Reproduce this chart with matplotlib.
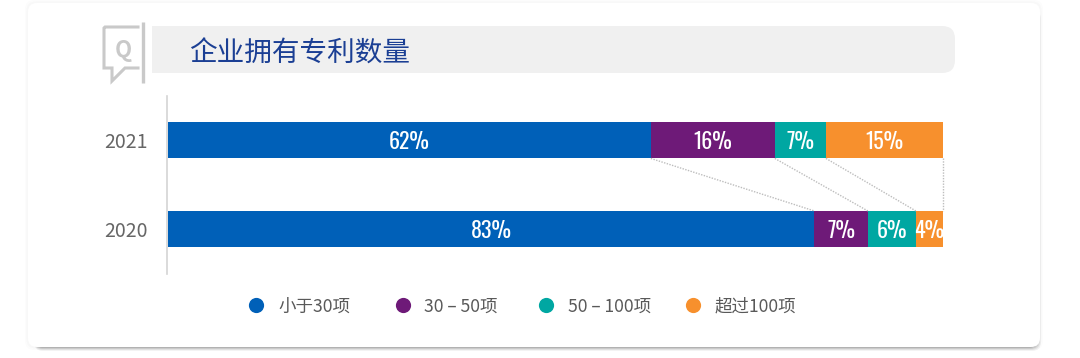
import matplotlib
matplotlib.use('Agg')
import matplotlib.pyplot as plt
from matplotlib.patches import FancyBboxPatch, Rectangle
from matplotlib import font_manager as fm
import numpy as np

CJK = ['Noto Sans CJK SC', 'DejaVu Sans']
plt.rcParams['font.family'] = CJK

title = '企业拥有专利数量'
years = ['2020', '2021']
groups = ['小于30项', '30 – 50项', '50 – 100项', '超过100项']
colors = ['#0060b8', '#6e1a78', '#00a7a2', '#f7902d']

# shares, printed labels kept apart
shares_2021 = [62.3, 16.0, 6.6, 15.1]
shares_2020 = [83.4, 6.9, 6.2, 3.5]
labels_2021 = ['62%', '16%', '7%', '15%']
labels_2020 = ['83%', '7%', '6%', '4%']

W, H = 1080, 358
fig = plt.figure(figsize=(W / 100, H / 100), dpi=100, facecolor='white')

# background layer in pixel coordinates: card, title pill, icon, legend
bg = fig.add_axes([0, 0, 1, 1], zorder=0)
bg.set_xlim(0, W)
bg.set_ylim(H, 0)
bg.axis('off')

# shadow, lower right
for grow, alpha in [(7, 0.06), (6, 0.09), (5, 0.12), (4, 0.16), (3, 0.2), (1.5, 0.25)]:
    bg.add_patch(FancyBboxPatch((34, 10), 1000 + grow, 334 + grow,
                                boxstyle='round,pad=0,rounding_size=9',
                                fc='#404040', ec='none', alpha=alpha))
for grow, alpha in [(3, 0.012), (1.5, 0.02)]:
    bg.add_patch(FancyBboxPatch((28 - grow, 3 - grow), 1012 + 2 * grow, 344 + 2 * grow,
                                boxstyle='round,pad=0,rounding_size=9',
                                fc='#404040', ec='none', alpha=alpha))
bg.add_patch(FancyBboxPatch((28, 3), 1012, 344, boxstyle='round,pad=0,rounding_size=9',
                            fc='white', ec='none'))

# title pill, square on the left
bg.add_patch(FancyBboxPatch((152, 26), 803, 47, boxstyle='round,pad=0,rounding_size=13',
                            fc='#f0f0f0', ec='none'))
bg.add_patch(Rectangle((152, 26), 30, 47, fc='#f0f0f0', ec='none'))
bg.text(189.5, 54, title, fontsize=19.9, fontweight='medium', color='#1b3f94',
        va='center', ha='left')

# Q icon
icon = '#c9c9c9'
bg.plot([142.5, 142.5], [22, 83], color=icon, lw=2.4, solid_capstyle='butt')
bg.plot([138, 105, 104, 104, 112, 112, 125, 138],
        [27, 27, 28, 68, 68, 81, 68, 68], color=icon, lw=2.2, solid_joinstyle='miter')
bg.text(123, 50, 'Q', fontsize=16, fontweight='bold', color=icon, ha='center', va='center')

# legend row
marker_x = [256, 403, 546, 693]
text_x = [278, 424, 568, 715]
for mx, tx, g, c in zip(marker_x, text_x, groups, colors):
    bg.scatter([mx], [305], s=120, color=c, linewidths=0)
    bg.text(tx, 307, g, fontsize=12.6, color='#595959', va='center', ha='left')

# bars
ax = fig.add_axes([168 / W, 1 - 273.7 / H, 775 / W, 178 / H], zorder=1)
ax.patch.set_alpha(0)
ax.spines['left'].set_position(('outward', 0.7))  # resets ticks, so do it first
ax.set_xlim(0, 100)
ax.set_ylim(-0.5, 1.5)
bar_h = 0.41
avail = {f.name for f in fm.fontManager.ttflist}
narrow = [n for n in ['Oswald', 'Sofia Sans Extra Condensed', 'Saira ExtraCondensed', 'Liberation Sans'] if n in avail]

for y, shares, labels in [(1, shares_2021, labels_2021), (0, shares_2020, labels_2020)]:
    left = 0
    for s, lab, c in zip(shares, labels, colors):
        ax.barh(y, s, left=left, height=bar_h, color=c, linewidth=0)
        ax.text(left + s / 2, y - 0.025, lab, color='white', ha='center', va='center',
                fontsize=15.8, fontweight='light', family=narrow + ['DejaVu Sans'])
        left += s

# dotted links between the two bars
top = np.cumsum(shares_2021)
bottom = np.cumsum(shares_2020)
for a, b in zip(top, bottom):
    ax.plot([a, b], [1 - bar_h / 2, bar_h / 2], color='#bdbdbd', lw=1, ls=(0, (1, 1)),
            clip_on=False)

ax.set_yticks([0, 1])
ax.set_yticklabels(years, fontsize=14, color='#666666', va='center_baseline')
ax.set_xticks([])
ax.tick_params(axis='y', length=0, pad=14)
for side in ['top', 'right', 'bottom']:
    ax.spines[side].set_visible(False)
ax.spines['left'].set_color('#d4d4d4')
ax.spines['left'].set_linewidth(1.2)

fig.savefig('out.png', dpi=100)
